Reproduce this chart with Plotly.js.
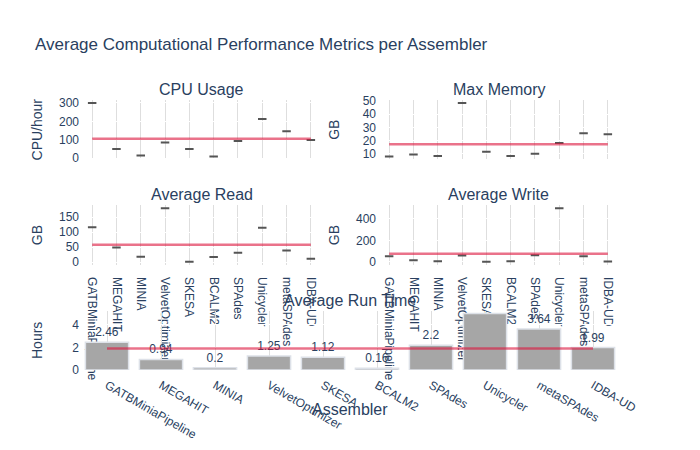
<!DOCTYPE html>
<html><head><meta charset="utf-8">
<script src="https://cdn.plot.ly/plotly-3.0.1.min.js"></script>
<style>html,body{margin:0;padding:0;background:#fff}</style>
</head><body><div id="chart" style="width:700px;height:450px"></div>
<script>
const assemblers = ["GATBMiniaPipeline","MEGAHIT","MINIA","VelvetOptimizer","SKESA","BCALM2","SPAdes","Unicycler","metaSPAdes","IDBA-UD"];
const cpuUsage  = [300, 48.5, 14, 84, 48.5, 8.6, 93, 213, 145.5, 98.6];
const maxMemory = [8.0, 9.5, 8.3, 48.4, 11.5, 8.3, 10.0, 18.2, 25.5, 24.7];
const avgRead   = [116.7, 49, 18, 180, 1, 16.7, 31, 114.6, 39, 11];
const avgWrite  = [53, 15, 6, 59, 1, 6, 62, 500, 53, 2];
const runTime   = [2.46, 0.94, 0.2, 1.25, 1.12, 0.16, 2.2, 5.0, 3.64, 1.99];
const subplotTitles = ["CPU Usage","Max Memory","Average Read","Average Write","Average Run Time"];
const xTitle = "Assembler";

const mean = a => a.reduce((s,v)=>s+v,0)/a.length;
const avgLineColor = 'rgba(220,20,60,0.6)';

function boxTrace(vals, xa, ya){
  return {type:'box', x:assemblers, y:vals, xaxis:xa, yaxis:ya, showlegend:false,
    line:{color:'#555555', width:2}, fillcolor:'rgba(128,128,128,0.4)', boxpoints:false};
}
function avgTrace(vals, xa, ya){
  const m = mean(vals);
  return {type:'scatter', mode:'lines', x:assemblers, y:assemblers.map(()=>m), xaxis:xa, yaxis:ya,
    showlegend:false, line:{color:avgLineColor, width:2.5}};
}

const data = [
  boxTrace(cpuUsage,'x','y'), avgTrace(cpuUsage,'x','y'),
  boxTrace(maxMemory,'x2','y2'), avgTrace(maxMemory,'x2','y2'),
  boxTrace(avgRead,'x3','y3'), avgTrace(avgRead,'x3','y3'),
  boxTrace(avgWrite,'x4','y4'), avgTrace(avgWrite,'x4','y4'),
  {type:'bar', x:assemblers, y:runTime, xaxis:'x5', yaxis:'y5', showlegend:false,
   text:runTime.map(String), textposition:'outside',
   marker:{color:'#a6a6a6', line:{color:'#dde1e8', width:1.5}}},
  avgTrace(runTime,'x5','y5')
];

const v = 0.17, h = (1-2*v)/3;
const rows = [[1-h,1],[h+v,2*h+v],[0,h]];
const cols = [[0,0.45],[0.55,1]];
const gridX = '#dedede';
function xax(dom, anchor, extra){ return Object.assign({domain:dom, anchor:anchor, type:'category', showgrid:true, gridcolor:gridX, zeroline:false, showline:false, ticks:''}, extra||{}); }
function yax(dom, anchor, title){ return {domain:dom, anchor:anchor, showgrid:true, gridcolor:'#ffffff', zeroline:false, showline:false, ticks:'', title:{text:title, font:{size:14}}}; }

const titleDomains = [[cols[0],rows[0]],[cols[1],rows[0]],[cols[0],rows[1]],[cols[1],rows[1]],[[0,1],rows[2]]];
const annotations = subplotTitles.map((t,i)=>({text:t, x:(titleDomains[i][0][0]+titleDomains[i][0][1])/2, y:titleDomains[i][1][1],
  xref:'paper', yref:'paper', xanchor:'center', yanchor:'bottom', showarrow:false, font:{size:16}}));
annotations.push({text:xTitle, x:0.5, y:-0.148, xref:'paper', yref:'paper', xanchor:'center', yanchor:'middle', showarrow:false, font:{size:16}});

const hiddenTick = {ticks:'outside', tickcolor:'rgba(0,0,0,0)'};
const layout = {
  width:700, height:450,
  font:{family:'"Liberation Sans", Arial, sans-serif', color:'#2a3f5f', size:12},
  title:{text:'Average Computational Performance Metrics per Assembler', x:0.05, font:{size:17}},
  paper_bgcolor:'#ffffff', plot_bgcolor:'#ffffff',
  margin:{l:80, r:80, t:100, b:80},
  showlegend:false,
  boxgap:0.5, bargap:0.2,
  xaxis: xax(cols[0],'y',{showticklabels:false}),
  yaxis: yax(rows[0],'x','CPU/hour'),
  xaxis2: xax(cols[1],'y2',{showticklabels:false}),
  yaxis2: yax(rows[0],'x2','GB'),
  xaxis3: xax(cols[0],'y3',Object.assign({tickangle:90, ticklen:9}, hiddenTick)),
  yaxis3: yax(rows[1],'x3','GB'),
  xaxis4: xax(cols[1],'y4',Object.assign({tickangle:90, ticklen:9}, hiddenTick)),
  yaxis4: yax(rows[1],'x4','GB'),
  xaxis5: xax([0,1],'y5',Object.assign({tickangle:30, ticklen:3}, hiddenTick)),
  yaxis5: yax(rows[2],'x5','Hours'),
  annotations: annotations
};

Plotly.newPlot('chart', data, layout, {displayModeBar:false});
</script></body></html>
